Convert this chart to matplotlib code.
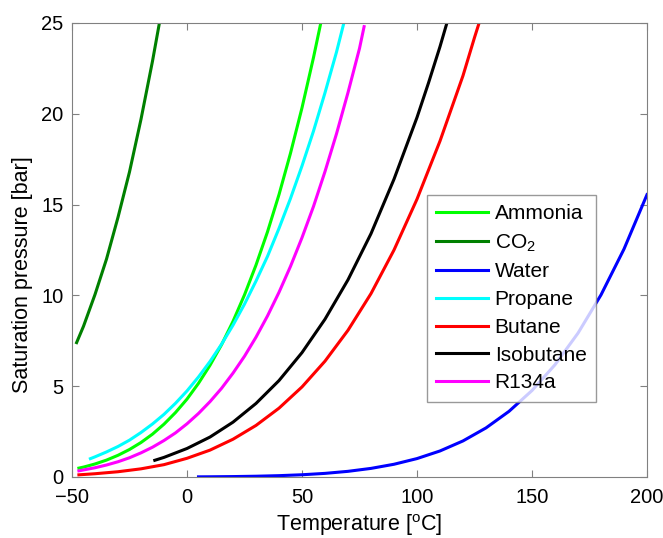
import matplotlib
matplotlib.use("Agg")
import matplotlib.pyplot as plt

plt.rcParams['font.family'] = ['Liberation Sans', 'DejaVu Sans']
plt.rcParams['mathtext.fontset'] = 'custom'
plt.rcParams['mathtext.rm'] = 'Liberation Sans'

# saturation pressure [bar] vs temperature [C]
t_ammonia = [-47, -45, -40, -35, -30, -25, -20, -15, -10, -5, 0, 5, 10, 15, 20, 25, 30, 35, 40, 45,
             50, 55, 58]
p_ammonia = [0.49, 0.545, 0.717, 0.93, 1.195, 1.515, 1.90, 2.36, 2.91, 3.55, 4.29, 5.16, 6.15, 7.28,
             8.57, 10.03, 11.67, 13.5, 15.55, 17.83, 20.33, 23.1, 24.9]

t_co2 = [-48, -45, -40, -35, -30, -25, -20, -15, -12]
p_co2 = [7.4, 8.3, 10.05, 12.0, 14.3, 16.8, 19.7, 22.9, 25.0]

t_water = [5, 10, 20, 30, 40, 50, 60, 70, 80, 90, 100, 110, 120, 130, 140, 150, 160, 170, 180, 190, 200]
p_water = [0.0087, 0.0123, 0.0234, 0.0425, 0.0738, 0.1235, 0.1994, 0.3119, 0.4739, 0.7014, 1.0142,
           1.4338, 1.9867, 2.7028, 3.6154, 4.7616, 6.1823, 7.9219, 10.028, 12.552, 15.549]

t_propane = [-42, -40, -35, -30, -25, -20, -15, -10, -5, 0, 5, 10, 15, 20, 25, 30, 35, 40,
             45, 50, 55, 60, 65, 68]
p_propane = [1.01, 1.11, 1.38, 1.68, 2.03, 2.45, 2.92, 3.45, 4.06, 4.74, 5.51, 6.36, 7.31, 8.36,
             9.52, 10.79, 12.15, 13.69, 15.34, 17.13, 19.05, 21.16, 23.4, 24.9]

t_butane = [-47, -40, -30, -20, -10, 0, 10, 20, 30, 40, 50, 60, 70, 80, 90, 100, 110, 120, 125, 127]
p_butane = [0.12, 0.18, 0.29, 0.45, 0.68, 1.03, 1.48, 2.08, 2.84, 3.79, 4.96, 6.38, 8.08, 10.1,
            12.5, 15.3, 18.5, 22.1, 24.2, 25.0]

t_isobutane = [-14, -10, 0, 10, 20, 30, 40, 50, 60, 70, 80, 90, 100, 105, 110, 113]
p_isobutane = [0.92, 1.08, 1.57, 2.2, 3.02, 4.05, 5.31, 6.85, 8.69, 10.86, 13.4, 16.4, 19.8,
               21.7, 23.7, 25.0]

t_r134a = [-47, -40, -35, -30, -25, -20, -15, -10, -5, 0, 5, 10, 15, 20, 25, 30, 35, 40, 45, 50,
           55, 60, 65, 70, 75, 77]
p_r134a = [0.34, 0.51, 0.66, 0.84, 1.06, 1.33, 1.64, 2.01, 2.43, 2.93, 3.50, 4.15, 4.88, 5.72,
           6.65, 7.70, 8.87, 10.17, 11.6, 13.18, 14.9, 16.82, 18.9, 21.17, 23.6, 24.8]

fig = plt.figure(figsize=(6.63, 5.38), dpi=100)
ax = fig.add_axes([72 / 663, 1 - 477 / 538, 575 / 663, 454 / 538])

lw = 2.2
ax.plot(t_ammonia, p_ammonia, color=(0, 1, 0), lw=lw, label='Ammonia')
ax.plot(t_co2, p_co2, color=(0, 0.5, 0), lw=lw, label='CO$_2$')
ax.plot(t_water, p_water, color=(0, 0, 1), lw=lw, label='Water')
ax.plot(t_propane, p_propane, color=(0, 1, 1), lw=lw, label='Propane')
ax.plot(t_butane, p_butane, color=(1, 0, 0), lw=lw, label='Butane')
ax.plot(t_isobutane, p_isobutane, color=(0, 0, 0), lw=lw, label='Isobutane')
ax.plot(t_r134a, p_r134a, color=(1, 0, 1), lw=lw, label='R134a')

ax.set_xlim(-50, 200)
ax.set_ylim(0, 25)
ax.set_xticks(range(-50, 201, 50))
ax.set_yticks(range(0, 26, 5))
ax.tick_params(direction='in', top=True, right=True, length=5, labelsize=14.5, color='#808080')
ax.tick_params(axis='x', pad=8)
ax.tick_params(axis='y', pad=6)
for s in ax.spines.values():
    s.set_color('#808080')

ax.set_xlabel('Temperature [$^{\\rm o}$C]', fontsize=15.5, labelpad=4)
ax.set_ylabel('Saturation pressure [bar]', fontsize=15.5)
ax.yaxis.set_label_coords((33 - 72) / 575, (477 - 275) / 454)

leg = ax.legend(loc='upper left', bbox_to_anchor=((427 - 72) / 575, (477 - 195) / 454),
                fontsize=15, frameon=True, fancybox=False, handlelength=2.5,
                borderpad=0.45, labelspacing=0.42, handletextpad=0.3, borderaxespad=0)
leg.get_frame().set_edgecolor('#808080')
leg.get_frame().set_linewidth(1.0)

fig.savefig('out.png', dpi=100)
